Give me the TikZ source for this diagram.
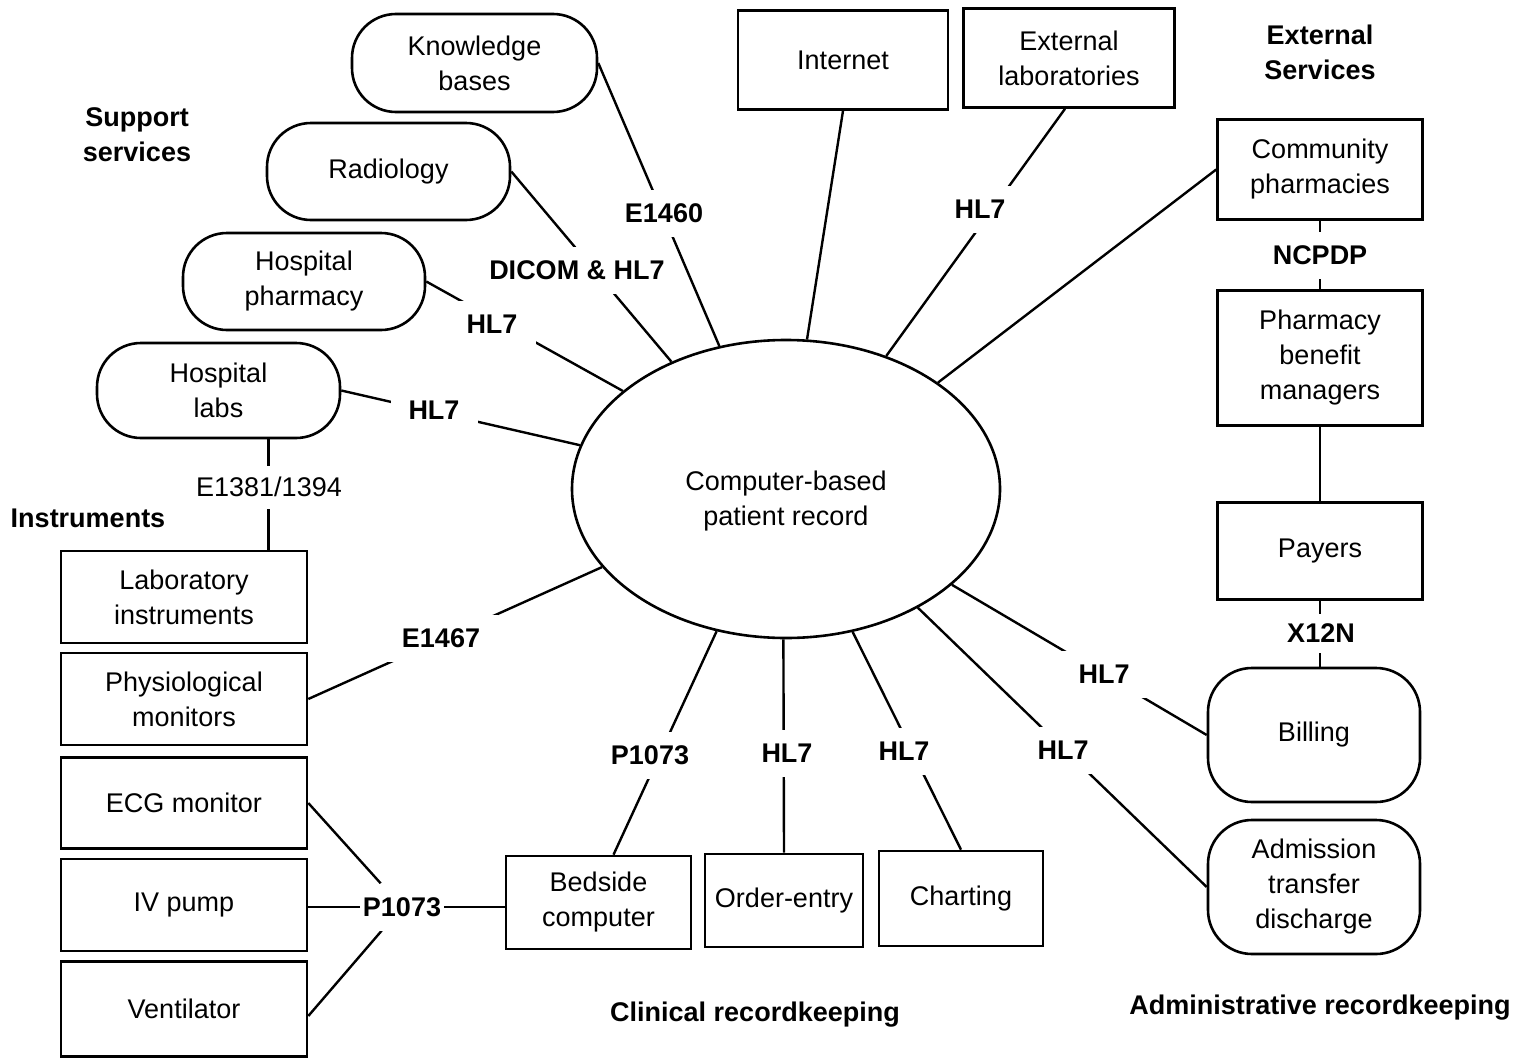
\documentclass[tikz,border=0pt]{standalone}
\usepackage{fontspec}
\setmainfont{Liberation Sans}
\usetikzlibrary{shapes.geometric,backgrounds}
\begin{document}
\begin{tikzpicture}[x=1pt,y=-1pt,
  every node/.style={font=\fontsize{27}{35}\selectfont, align=center},
  box/.style={draw, line width=2.6pt, inner sep=0pt},
  pill/.style={box, rounded corners=44pt},
  std/.style={fill=white, font=\fontsize{27}{35}\selectfont\bfseries,
    inner xsep=18pt, inner ysep=14pt, text height=19pt, text depth=0pt},
  stdr/.style={std, font=\fontsize{27}{35}\selectfont},
  grp/.style={font=\fontsize{27}{35}\selectfont\bfseries},
  link/.style={line width=2.4pt},
]
\useasboundingbox (0,0) rectangle (1518,1060);

% central record
\node[ellipse, draw, line width=2.6pt, minimum width=428pt, minimum height=298pt, inner sep=0pt]
  (cpr) at (786,489) {\raisebox{-18pt}[0pt][0pt]{\begin{tabular}{@{}c@{}}Computer-based\\patient record\end{tabular}}};

% support services
\node[pill, minimum width=245pt, minimum height=98pt] (kb)  at (474.5,63)  {Knowledge\\bases};
\node[pill, minimum width=243pt, minimum height=97pt] (rad) at (388.5,171.5) {Radiology};
\node[pill, minimum width=242pt, minimum height=97pt] (hp)  at (304,281.5) {Hospital\\pharmacy};
\node[pill, minimum width=243pt, minimum height=95pt] (hl)  at (218.5,390.5) {Hospital\\labs};

% external services
\node[box, minimum width=210pt, minimum height=99pt] (inet) at (843,60) {Internet};
\node[box, minimum width=211pt, minimum height=99pt] (elab) at (1069,58) {External\\laboratories};
\node[box, minimum width=205pt, minimum height=100pt] (comm) at (1320,169.5) {Community\\pharmacies};
\node[box, minimum width=205pt, minimum height=135pt] (pbm)  at (1320,358) {Pharmacy\\benefit\\managers};
\node[box, minimum width=205pt, minimum height=97pt] (pay)  at (1320,551) {Payers};

% administrative recordkeeping
\node[pill, minimum width=212pt, minimum height=134pt] (bill) at (1314,735) {Billing};
\node[pill, minimum width=212pt, minimum height=134pt] (adm)  at (1314,887) {Admission\\transfer\\discharge};

% clinical recordkeeping
\node[box, minimum width=185pt, minimum height=93pt] (bc)    at (598.5,902.5) {Bedside\\computer};
\node[box, minimum width=158pt, minimum height=93pt] (oe)    at (784,900.5) {Order-entry};
\node[box, minimum width=164pt, minimum height=95pt] (chart) at (961,898.5) {Charting};

% instruments
\node[box, minimum width=246pt, minimum height=92pt] (li)   at (184,597) {Laboratory\\instruments};
\node[box, minimum width=246pt, minimum height=92pt] (phys) at (184,699) {Physiological\\monitors};
\node[box, minimum width=246pt, minimum height=91pt] (ecg)  at (184,803) {ECG monitor};
\node[box, minimum width=246pt, minimum height=92pt] (iv)   at (184,905) {IV pump};
\node[box, minimum width=246pt, minimum height=95pt] (vent) at (184,1009) {Ventilator};

% group titles
\node[grp] (tsup)  at (137,135)  {Support\\services};
\node[grp] (tins)  at (88,518)   {Instruments};
\node[grp] (text)  at (1320,52)  {External\\Services};
\node[grp] (tclin) at (755,1015) {Clinical recordkeeping};
\node[grp] (tadm)  at (1320,1008) {Administrative recordkeeping};

% standards on the links
\node[std] (s1)  at (664,213)  {E1460};
\node[std, inner xsep=4pt] (s2)  at (577,270)  {DICOM \& HL7};
\node[std] (s3)  at (492,324)  {HL7};
\node[std] (s4)  at (434,410)  {HL7};
\node[std] (s5)  at (980,209)  {HL7};
\node[std] (s6)  at (1320,255) {NCPDP};
\node[std, inner ysep=10pt] (s7) at (1321,633) {X12N};
\node[stdr, inner ysep=12pt] (s8) at (269,487) {E1381/1394};
\node[std] (s9)  at (441,638)  {E1467};
\node[std] (s10) at (650,755)  {P1073};
\node[std] (s11) at (787,753)  {HL7};
\node[std] (s12) at (904,751)  {HL7};
\node[std] (s13) at (1063,750) {HL7};
\node[std] (s14) at (1104,674) {HL7};
\node[std, inner xsep=3pt] (piv) at (402,907) {P1073};

\coordinate (hlj) at ([xshift=50pt]hl.south);

\begin{scope}[on background layer]
  \draw[link] (kb.east) -- (cpr.115);
  \draw[link] (rad.east) -- (cpr.132);
  \draw[link] (hp.east) -- (cpr.149);
  \draw[link] (hl.east) -- (cpr.168);
  \draw[link] (inet.south) -- (cpr.82);
  \draw[link] ([xshift=-4pt]elab.south) -- (cpr.53);
  \draw[link] (comm.west) -- (cpr.35);
  \draw[link] (comm.south) -- (pbm.north);
  \draw[link] (pbm.south) -- (pay.north);
  \draw[link] (pay.south) -- (pay.south |- bill.north);
  \draw[link] (hlj) -- (hlj |- li.north);
  \draw[link] (phys.east) -- (cpr.203);
  \draw[link] ([xshift=15pt]bc.north) -- (cpr.244);
  \draw[link] (oe.north) -- (cpr.269);
  \draw[link] (chart.north) -- (cpr.295);
  \draw[link] (adm.west) -- (cpr.318);
  \draw[link] (bill.west) -- (cpr.330);
  \draw[link] (ecg.east) -- (piv);
  \draw[link] (piv.west -| iv.east) -- (piv.west);
  \draw[link] (piv.east) -- (piv.east -| bc.west);
  \draw[link] ([yshift=-7pt]vent.east) -- (piv);
\end{scope}
\end{tikzpicture}
\end{document}
